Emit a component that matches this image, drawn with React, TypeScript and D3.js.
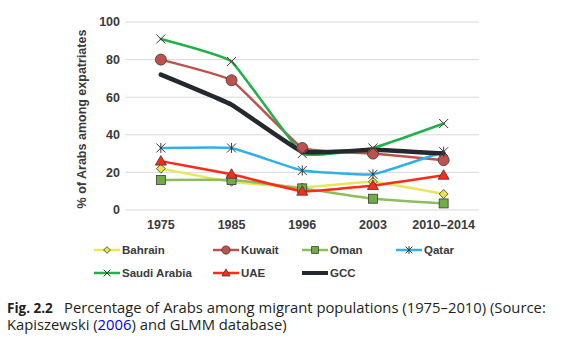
import React from "react";
import * as d3 from "d3";

const categories = ["1975", "1985", "1996", "2003", "2010–2014"];
const bahrain = [22, 15, 12, 15, 8.5];
const kuwait = [80, 69, 33, 30, 26.5];
const oman = [16, 16, 11.5, 6, 3.5];
const qatar = [33, 33, 21, 19, 31];
const saudi = [91, 79, 30, 33, 46];
const uae = [26, 19, 10, 13, 18.5];
const gcc = [72, 56, 31, 32, 30];
const yTicks = [0, 20, 40, 60, 80, 100];

type S = { name: string; values: number[]; color: string; marker: string; fill: string; width: number };
const series: S[] = [
  { name: "Bahrain", values: bahrain, color: "#e8e65a", marker: "diamond", fill: "#e8e34a", width: 2.5 },
  { name: "Kuwait", values: kuwait, color: "#c0504d", marker: "circle", fill: "#c0504d", width: 2.5 },
  { name: "Oman", values: oman, color: "#8cbf5c", marker: "square", fill: "#70ad47", width: 2.5 },
  { name: "Qatar", values: qatar, color: "#2fb0e6", marker: "star", fill: "none", width: 2.5 },
  { name: "Saudi Arabia", values: saudi, color: "#22b04b", marker: "x", fill: "none", width: 2.5 },
  { name: "UAE", values: uae, color: "#ff2a1a", marker: "triangle", fill: "#ff2a1a", width: 2.5 },
  { name: "GCC", values: gcc, color: "#23292e", marker: "none", fill: "none", width: 4.5 },
];

const FONT = "'Liberation Sans', Arial, sans-serif";
const CAP = "'Open Sans', sans-serif";

function Marker({ type, x, y, fill, k = 1 }: { type: string; x: number; y: number; fill: string; k?: number }) {
  const st = "#3a3a3a";
  const a = 4.5 * k;
  if (type === "circle") return <circle cx={x} cy={y} r={5.5 * k} fill={fill} stroke={st} strokeWidth={0.8} />;
  if (type === "square") return <rect x={x - a} y={y - a} width={2 * a} height={2 * a} fill={fill} stroke={st} strokeWidth={0.8} />;
  if (type === "diamond") return <path d={`M${x},${y - a}L${x + a},${y}L${x},${y + a}L${x - a},${y}Z`} fill={fill} stroke={st} strokeWidth={0.8} />;
  if (type === "triangle") return <path d={`M${x},${y - 5.5 * k}L${x + 5.5 * k},${y + 4 * k}L${x - 5.5 * k},${y + 4 * k}Z`} fill={fill} stroke={st} strokeWidth={0.8} />;
  if (type === "x") return <path d={`M${x - a},${y - a}L${x + a},${y + a}M${x + a},${y - a}L${x - a},${y + a}`} stroke={st} strokeWidth={1} />;
  if (type === "star") return <path d={`M${x - a},${y - a}L${x + a},${y + a}M${x + a},${y - a}L${x - a},${y + a}M${x},${y - a - 0.5}L${x},${y + a + 0.5}`} stroke={st} strokeWidth={1} />;
  return null;
}

export default function App() {
  const W = 572, H = 343;
  const left = 125.5, right = 479, top = 22, bottom = 210;
  const x = d3.scaleBand().domain(categories).range([left, right]);
  const y = d3.scaleLinear().domain([0, 100]).range([bottom, top]);
  const cx = (c: string) => (x(c) as number) + x.bandwidth() / 2;
  const line = d3
    .line<number>()
    .x((_, i) => cx(categories[i]))
    .y((v) => y(v))
    .curve(d3.curveCardinal.tension(0.7));

  const legendPos = [
    [94, 250], [213, 250], [302, 250], [396, 250],
    [94, 273], [213, 273], [302, 273],
  ];

  return (
    <svg width={W} height={H} style={{ position: "absolute", left: 0, top: 0, background: "#fff" }}>
      {yTicks.map((t) => (
        <g key={t}>
          <line x1={left} x2={right} y1={y(t)} y2={y(t)} stroke="#d9d9d9" strokeWidth={1} />
          <text x={left - 5.5} y={y(t)} dy="0.35em" textAnchor="end" fontFamily={FONT} fontWeight="bold" fontSize={12.5} fill="#3a3a3a">{t}</text>
        </g>
      ))}
      {categories.map((c) => (
        <text key={c} x={cx(c)} y={229} textAnchor="middle" fontFamily={FONT} fontWeight="bold" fontSize={12.5} fill="#3a3a3a">{c}</text>
      ))}
      <text transform={`translate(86,${(top + bottom) / 2 + 3}) rotate(-90)`} textAnchor="middle" fontFamily={FONT} fontWeight="bold" fontSize={12.5} fill="#3a3a3a">% of Arabs among expatriates</text>
      {series.map((s) => (
        <path key={s.name} d={line(s.values) || ""} fill="none" stroke={s.color} strokeWidth={s.width} strokeLinejoin="round" strokeLinecap="round" />
      ))}
      {series.map((s) =>
        s.values.map((v, i) => <Marker key={s.name + i} type={s.marker} x={cx(categories[i])} y={y(v)} fill={s.fill} />)
      )}
      {series.map((s, i) => {
        const [lx, ly] = legendPos[i];
        return (
          <g key={"lg" + s.name}>
            <line x1={lx} x2={lx + 26} y1={ly} y2={ly} stroke={s.color} strokeWidth={s.width === 2.5 ? 2.5 : 4} />
            <Marker type={s.marker} x={lx + 13} y={ly} fill={s.fill} k={0.75} />
            <text x={lx + 28} y={ly} dy="0.35em" fontFamily={FONT} fontWeight="bold" fontSize={11.5} fill="#3a3a3a">{s.name}</text>
          </g>
        );
      })}
      <text x={7} y={312.5} fontFamily={CAP} fontWeight="bold" fontSize={13.5} fill="#231f20">Fig. 2.2</text>
      <text x={64} y={312.5} fontFamily={CAP} fontSize={14.8} fill="#231f20">Percentage of Arabs among migrant populations (1975–2010) (Source:</text>
      <text x={7} y={329.5} fontFamily={CAP} fontSize={14.8} fill="#231f20">
        Kapiszewski (<tspan fill="#0000ee">2006</tspan>) and GLMM database)
      </text>
    </svg>
  );
}
